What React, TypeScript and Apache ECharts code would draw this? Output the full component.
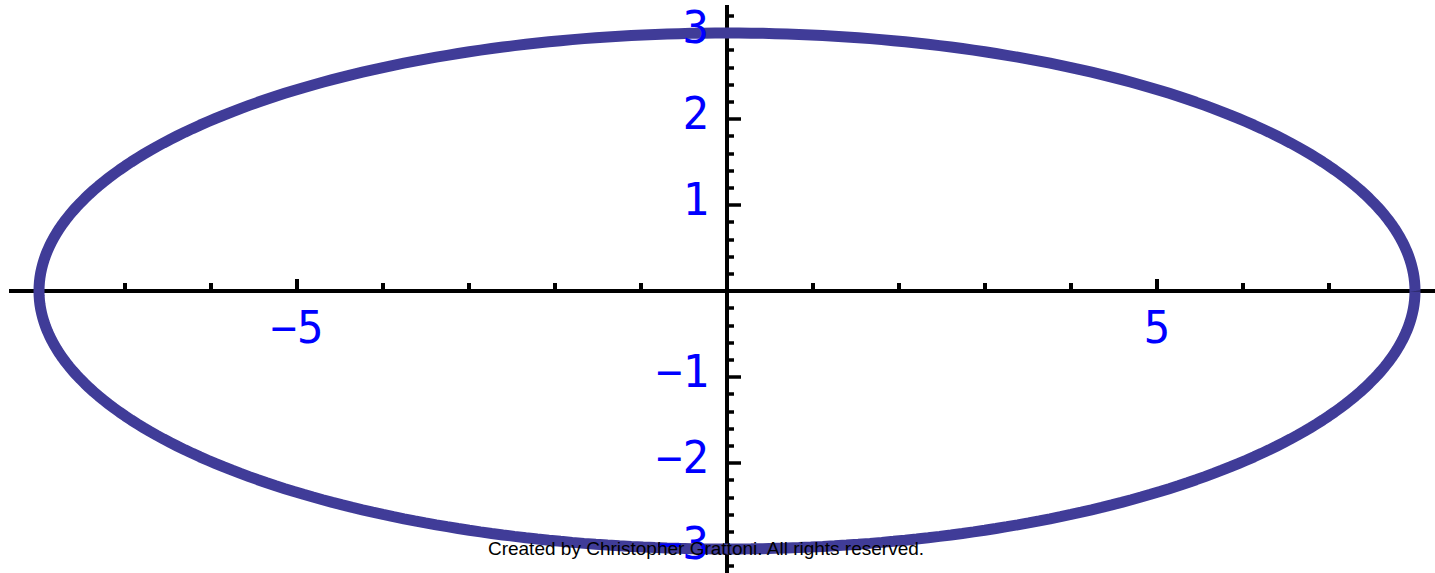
import React, { useEffect, useRef } from "react";
import * as echarts from "echarts";

// Ellipse x²/a² + y²/b² = 1
const semiAxisX = 8;
const semiAxisY = 3;
const curveSamples = 360;

// Axis extents and tick settings
const xRange = [-9, 9];
const yRange = [-4, 4];
const xLabelValues = [-5, 5];
const yLabelValues = [-3, -2, -1, 1, 2, 3];
const xLongTickValues = [-5, 5];
const watermark = "Created by Christopher Grattoni. All rights reserved.";

const curveColor = "#403c98";
const labelColor = "#0000ff";

const ellipsePoints: number[][] = [];
for (let i = 0; i <= curveSamples; i++) {
  const t = (2 * Math.PI * i) / curveSamples;
  ellipsePoints.push([semiAxisX * Math.cos(t), semiAxisY * Math.sin(t)]);
}

const fmt = (v: number) => (v < 0 ? "\u2212" + Math.abs(v) : String(v));

const tickLabelStyle = {
  show: true,
  color: labelColor,
  opacity: 1,
  fontFamily: "DejaVu Sans Mono",
  fontSize: 44,
};

export default function App() {
  const ref = useRef<HTMLDivElement>(null);
  useEffect(() => {
    document.body.style.margin = "0";
    const chart = echarts.init(ref.current!, undefined, { renderer: "svg" });
    const pxPerUnit = 86;
    const originX = 727;
    const originY = 291;
    chart.setOption({
      animation: false,
      backgroundColor: "#ffffff",
      grid: {
        left: originX + xRange[0] * pxPerUnit,
        width: (xRange[1] - xRange[0]) * pxPerUnit,
        top: originY - yRange[1] * pxPerUnit,
        height: (yRange[1] - yRange[0]) * pxPerUnit,
        containLabel: false,
        outerBoundsMode: "none",
      },
      xAxis: {
        type: "value",
        min: xRange[0],
        max: xRange[1],
        interval: 1,
        splitLine: { show: false },
        axisLine: { onZero: true, lineStyle: { color: "#000", width: 4 } },
        axisTick: { inside: true, length: 8, lineStyle: { color: "#000", width: 4 } },
        axisLabel: { show: false },
      },
      yAxis: {
        type: "value",
        min: yRange[0],
        max: yRange[1],
        interval: 1,
        splitLine: { show: false },
        axisLine: { onZero: true, lineStyle: { color: "#000", width: 4 } },
        axisTick: { inside: true, length: 14, lineStyle: { color: "#000", width: 3.5 } },
        minorTick: { show: true, splitNumber: 5, length: 7, lineStyle: { color: "#000", width: 3.5 } },
        minorSplitLine: { show: false },
        axisLabel: { show: false },
      },
      series: [
        {
          type: "line",
          data: ellipsePoints,
          showSymbol: false,
          smooth: false,
          clip: false,
          lineStyle: { color: curveColor, width: 11 },
          z: 3,
        },
        {
          // longer ticks at the labelled x positions
          type: "scatter",
          data: xLongTickValues.map((v) => [v, 0]),
          symbol: "rect",
          symbolSize: [4, 12],
          symbolOffset: [0, -6],
          itemStyle: { color: "#000", opacity: 1 },
          z: 1,
        },
        {
          // x tick labels, placed beside the axis crossing
          type: "scatter",
          data: xLabelValues.map((v) => [v, 0]),
          symbolSize: 0,
          silent: true,
          itemStyle: { opacity: 1 },
          label: { ...tickLabelStyle, position: "bottom", distance: 14, formatter: (p: any) => fmt(p.value[0]) },
          z: 4,
        },
        {
          // y tick labels, left of the vertical axis
          type: "scatter",
          data: yLabelValues.map((v) => [0, v]),
          symbolSize: 0,
          silent: true,
          itemStyle: { opacity: 1 },
          label: {
            ...tickLabelStyle,
            position: "left",
            distance: 18,
            offset: [0, -6],
            formatter: (p: any) => fmt(p.value[1]),
          },
          z: 4,
        },
      ],
      graphic: [
        { type: "rect", shape: { x: 0, y: 280, width: 9, height: 20 }, style: { fill: "#fff" }, z: 50 },
        { type: "rect", shape: { x: 715, y: 0, width: 40, height: 5 }, style: { fill: "#fff" }, z: 50 },
        {
          type: "text",
          x: 706,
          y: 548,
          z: 100,
          style: {
            text: watermark,
            fill: "#000",
            font: "19px 'Liberation Sans', Arial, sans-serif",
            align: "center",
            verticalAlign: "middle",
          },
        },
      ],
    });
    return () => chart.dispose();
  }, []);
  return <div ref={ref} style={{ width: 1435, height: 573 }} />;
}
